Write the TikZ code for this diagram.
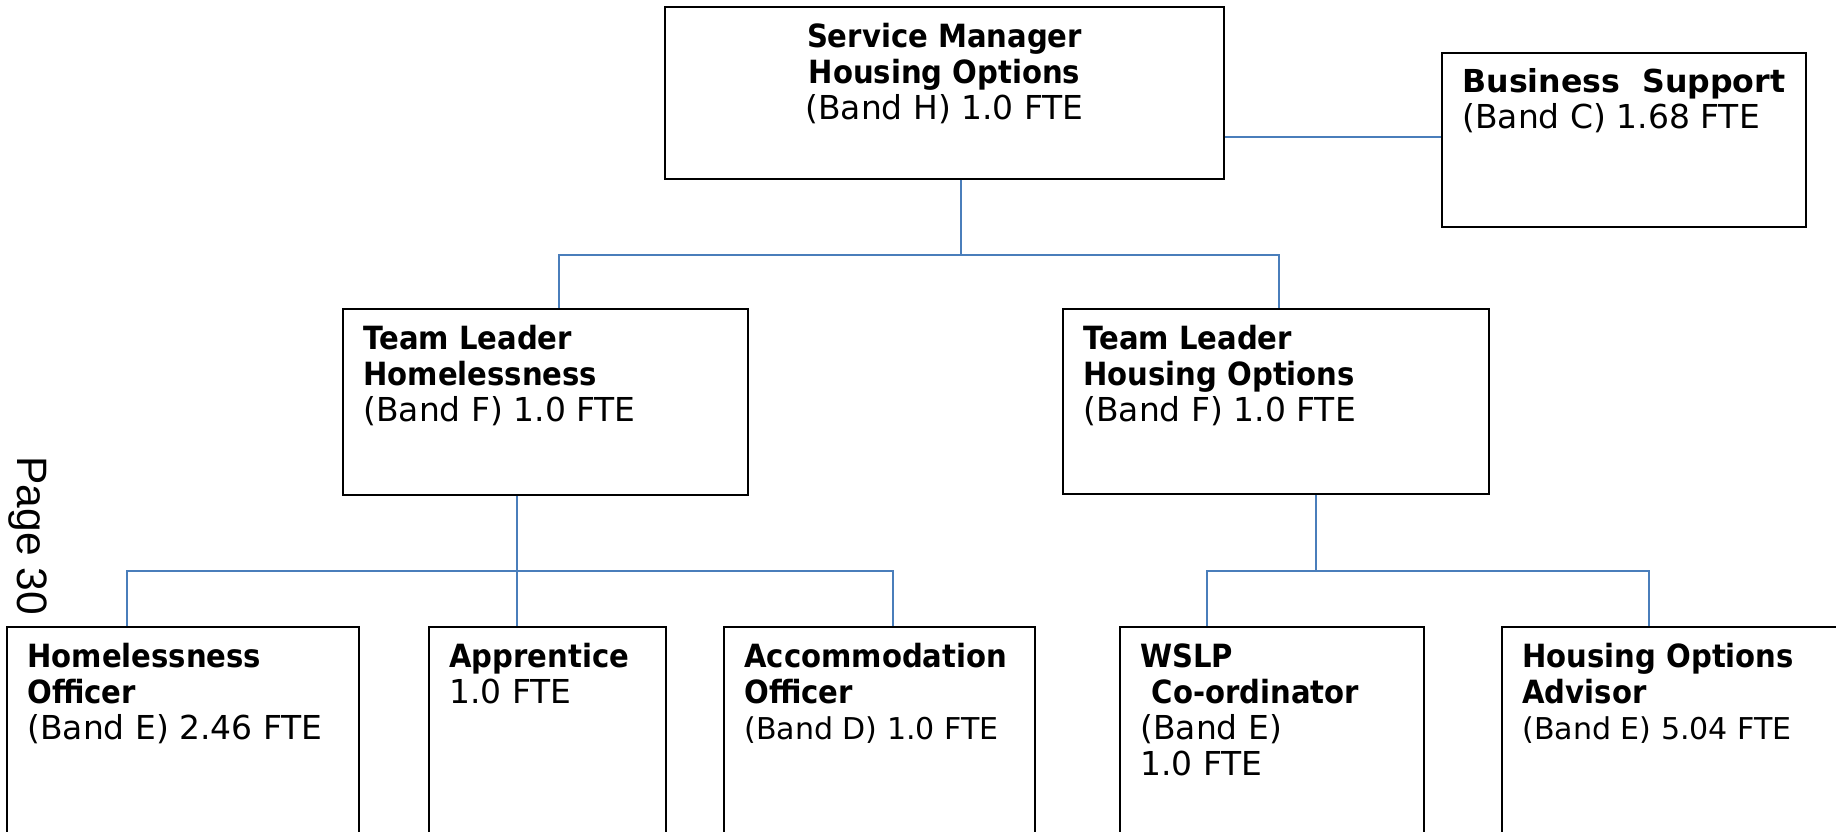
\documentclass[tikz,border=0pt]{standalone}
\usepackage{fontspec}
\setmainfont{DejaVu Sans}
\newfontfamily\pagefont{Liberation Sans}
\newfontfamily\narrowfont[FakeStretch=0.91]{DejaVu Sans}
\usepackage{tikz}
\usetikzlibrary{positioning, calc}
\definecolor{linkblue}{RGB}{74,126,187}
\newcommand{\rolename}[1]{{\narrowfont\fontsize{18.2}{20.5}\selectfont\bfseries #1}}
\newcommand{\smallfte}[1]{{\fontsize{17.1}{20.5}\selectfont #1}}
\tikzstyle{post} = [rectangle, draw=black, line width=1.1pt, inner sep=0pt, fill=white]
\tikzstyle{txt} = [inner sep=0pt, align=left, anchor=north west, font=\fontsize{18.75}{20.5}\selectfont]
\tikzstyle{link} = [draw=linkblue, line width=1.1pt]

\begin{document}
\begin{tikzpicture}
    \useasboundingbox (0,0) rectangle (36.72,-16.64);

    % Service Manager
    \node (sm) [post, minimum width=11.18cm, minimum height=3.44cm] at (18.89,-1.86) {};
    \node (smtext) [txt, anchor=north, align=center] at ($(sm.north)+(0,-0.33)$) {\rolename{Service Manager}\\\rolename{Housing Options}\\(Band H) 1.0 FTE};

    % Business Support
    \node (bs) [post, minimum width=7.28cm, minimum height=3.48cm] at (32.48,-2.80) {};
    \node (bstext) [txt] at ($(bs.north west)+(0.42,-0.32)$) {{\fontsize{18}{20.5}\selectfont\bfseries Business\ \ Support}\\(Band C) 1.68 FTE};

    % Team Leaders
    \node (tlh) [post, minimum width=8.10cm, minimum height=3.72cm] at (10.91,-8.04) {};
    \node (tlhtext) [txt] at ($(tlh.north west)+(0.42,-0.34)$) {\rolename{Team Leader}\\\rolename{Homelessness}\\(Band F) 1.0 FTE};
    \node (tlo) [post, minimum width=8.52cm, minimum height=3.70cm] at (25.52,-8.03) {};
    \node (tlotext) [txt] at ($(tlo.north west)+(0.42,-0.34)$) {\rolename{Team Leader}\\\rolename{Housing Options}\\(Band F) 1.0 FTE};

    % Officers
    \node (ho) [post, minimum width=7.04cm, minimum height=4.46cm] at (3.66,-14.77) {};
    \node (hotext) [txt] at ($(ho.north west)+(0.42,-0.33)$) {\rolename{Homelessness}\\\rolename{Officer}\\(Band E) 2.46 FTE};
    \node (app) [post, minimum width=4.74cm, minimum height=4.46cm] at (10.95,-14.77) {};
    \node (apptext) [txt] at ($(app.north west)+(0.42,-0.33)$) {\rolename{Apprentice}\\1.0 FTE};
    \node (acc) [post, minimum width=6.22cm, minimum height=4.46cm] at (17.59,-14.77) {};
    \node (acctext) [txt] at ($(acc.north west)+(0.42,-0.33)$) {\rolename{Accommodation}\\\rolename{Officer}\\\smallfte{(Band D) 1.0 FTE}};
    \node (wslp) [post, minimum width=6.08cm, minimum height=4.46cm] at (25.44,-14.77) {};
    \node (wslptext) [txt] at ($(wslp.north west)+(0.42,-0.34)$) {\rolename{WSLP}\\\hspace*{0.35em}\rolename{Co-ordinator}\\(Band E)\\1.0 FTE};
    \node (hoa) [post, minimum width=6.96cm, minimum height=4.46cm] at (33.52,-14.77) {};
    \node (hoatext) [txt] at ($(hoa.north west)+(0.42,-0.33)$) {\rolename{Housing Options}\\\rolename{Advisor}\\\smallfte{(Band E) 5.04 FTE}};

    % Page number
    \node (pagenum) [rotate=-90, anchor=base west, inner sep=0pt, font=\pagefont\fontsize{24.2}{28}\selectfont] at (0.34,-9.12) {Page 30};

    % Joins
    \coordinate (smjoin) at (19.22,-5.10);
    \coordinate (busl) at (11.18,-5.10);
    \coordinate (busr) at (25.58,-5.10);
    \coordinate (hjoin) at (10.34,-11.42);
    \coordinate (hbusl) at (2.54,-11.42);
    \coordinate (hbusr) at (17.86,-11.42);
    \coordinate (ojoin) at (26.32,-11.42);
    \coordinate (obusl) at (24.14,-11.42);
    \coordinate (obusr) at (32.98,-11.42);

    % Lines
    \draw [link] ([yshift=0.06cm]bs.west) -- ([yshift=0.06cm]bs.west -| sm.east);
    \draw [link] (smjoin |- sm.south) -- (smjoin);
    \draw [link] (busl |- tlh.north) -- (busl) -- (busr) -- (busr |- tlo.north);
    \draw [link] (hjoin |- tlh.south) -- (hjoin |- app.north);
    \draw [link] (hbusl |- ho.north) -- (hbusl) -- (hbusr) -- (hbusr |- acc.north);
    \draw [link] (ojoin |- tlo.south) -- (ojoin);
    \draw [link] (obusl |- wslp.north) -- (obusl) -- (obusr) -- (obusr |- hoa.north);
\end{tikzpicture}
\end{document}
